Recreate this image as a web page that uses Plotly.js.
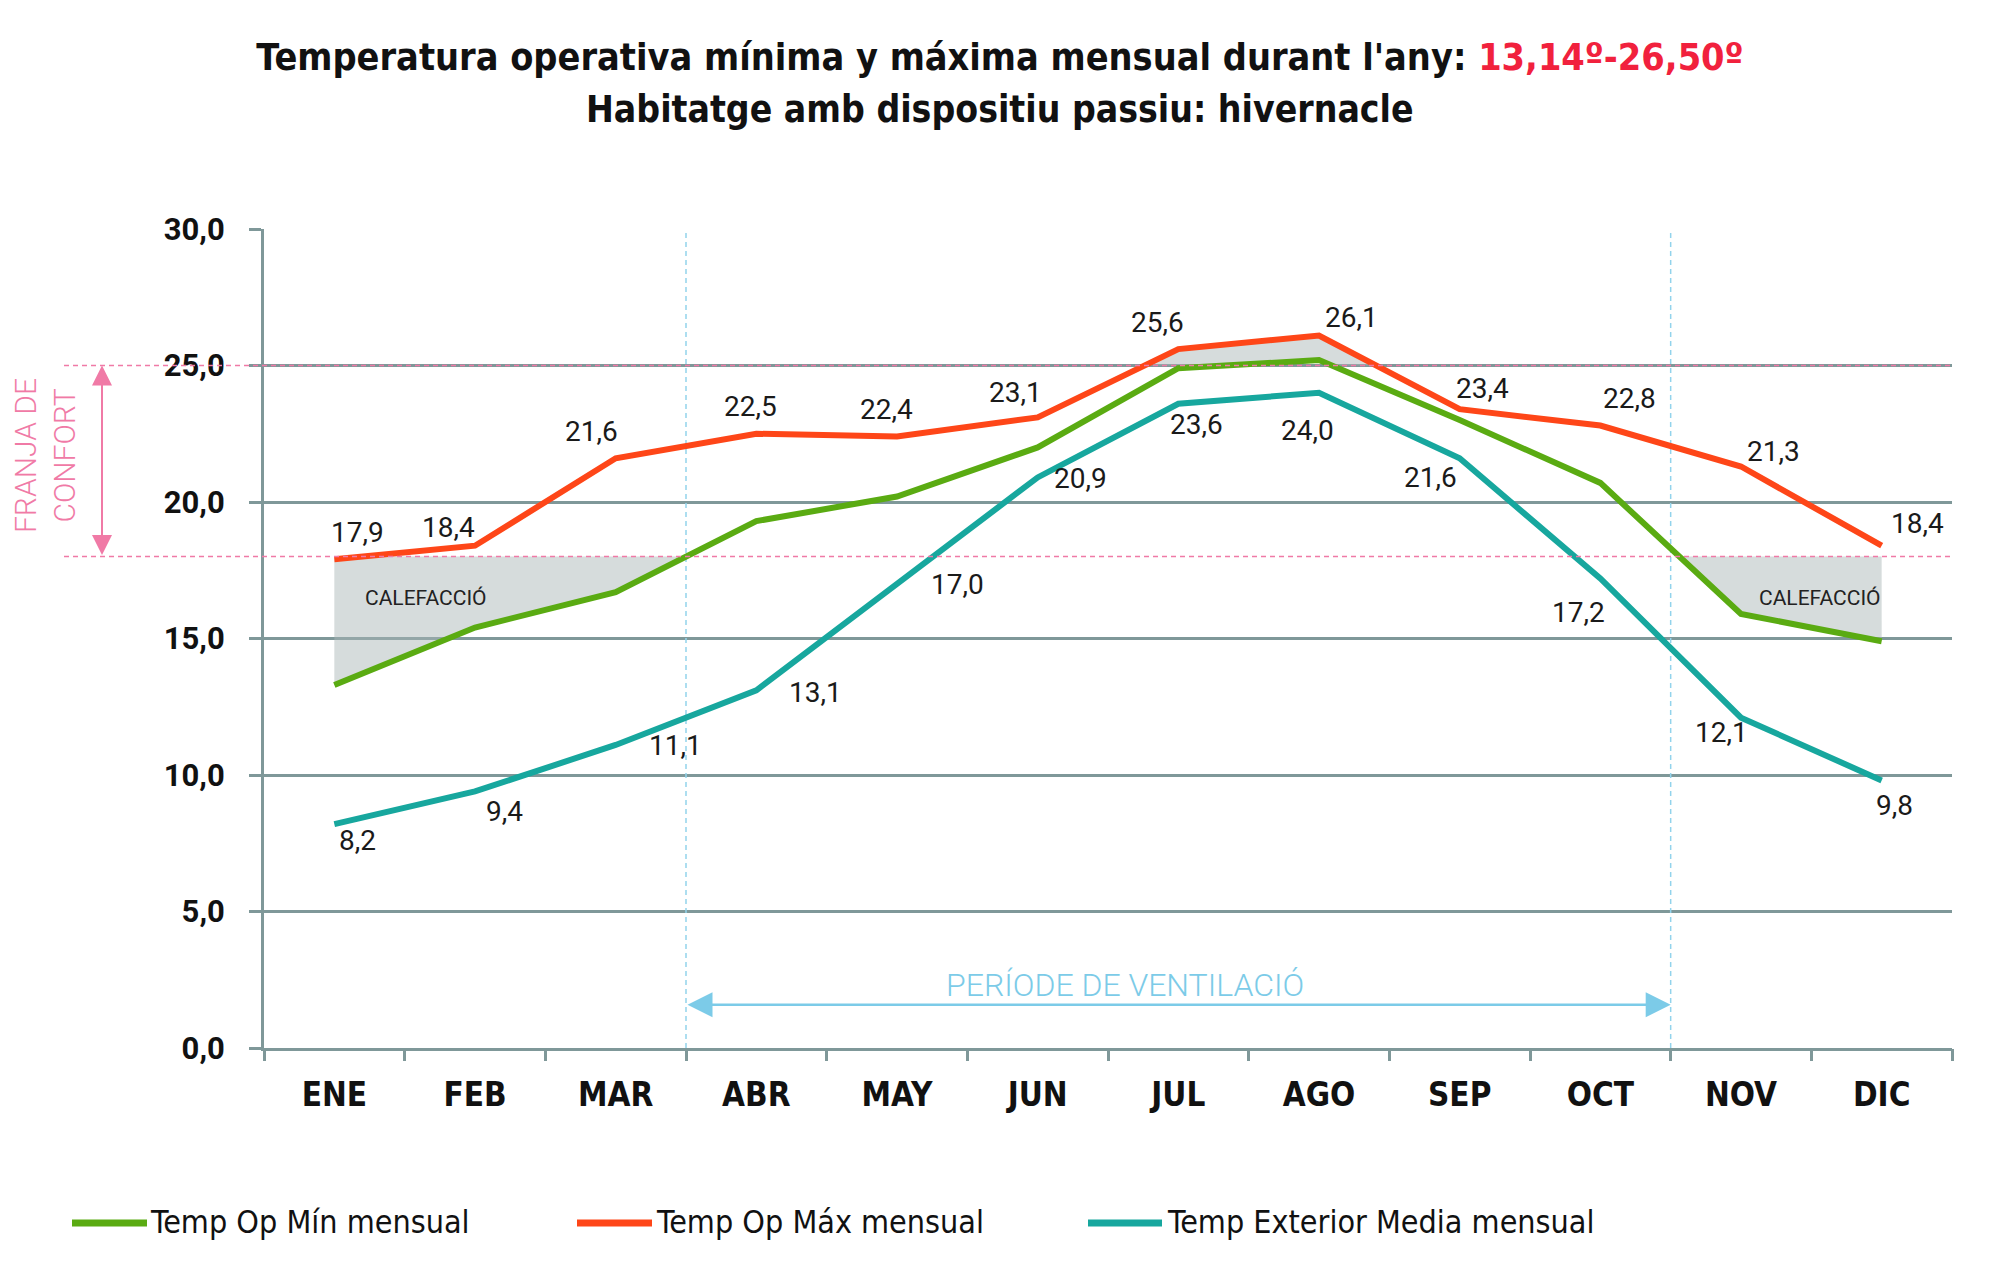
<!DOCTYPE html>
<html>
<head>
<meta charset="utf-8">
<script src="https://cdn.plot.ly/plotly-3.0.1.min.js"></script>
<style>html,body{margin:0;padding:0;background:#fff}#chart{width:2000px;height:1273px}</style>
</head>
<body>
<div id="chart"></div>
<script>
// ---------- data ----------
const months = ['ENE','FEB','MAR','ABR','MAY','JUN','JUL','AGO','SEP','OCT','NOV','DIC'];
const tempMin = [13.3, 15.4, 16.7, 19.3, 20.2, 22.0, 24.9, 25.2, 23.0, 20.7, 15.9, 14.9];
const tempMax = [17.9, 18.4, 21.6, 22.5, 22.4, 23.1, 25.6, 26.1, 23.4, 22.8, 21.3, 18.4];
const tempExt = [8.2, 9.4, 11.1, 13.1, 17.0, 20.9, 23.6, 24.0, 21.6, 17.2, 12.1, 9.8];
const seriesNames = ['Temp Op Mín mensual', 'Temp Op Máx mensual', 'Temp Exterior Media mensual'];
const yTicks = [0, 5, 10, 15, 20, 25, 30];
const confortMin = 18, confortMax = 25;
const ventFirst = 'ABR', ventLast = 'OCT';
const titleMain = "Temperatura operativa mínima y máxima mensual durant l'any: ";
const titleRange = '13,14º-26,50º';
const subtitle = 'Habitatge amb dispositiu passiu: hivernacle';

// ---------- styles ----------
const COLORS = ['#5aab12', '#fe4618', '#17a79e'];
const GRID = '#7f9899';
const PINK = '#f07aa6';
const LBLUE = '#7ccbe8';
const SHADE = 'rgba(170,182,182,0.48)';
const COND = 'DejaVu Sans Condensed, DejaVu Sans, sans-serif';
const Y_RANGE = [0, 30];
const X_RANGE = [-0.5, months.length - 0.5];

const idx = months.map((_, i) => i);
const boundaries = [...idx.map(i => i - 0.5), months.length - 0.5];
const ventStart = months.indexOf(ventFirst) - 0.5;
const ventEnd = months.indexOf(ventLast) + 0.5;
const fmt = v => v.toFixed(1).replace('.', ',');

// pixel -> paper helpers (plot area 264..1952 x, 229..1048 y)
const PL = 264, PW = 1688, PB = 1048, PH = 819;
const px = x => (x - PL) / PW;
const py = y => (PB - y) / PH;

// piecewise linear helpers for the shaded bands
const lin = arr => x => { const i = Math.max(0, Math.min(Math.floor(x), arr.length - 2)); const t = x - i; return arr[i] + (arr[i + 1] - arr[i]) * t; };
const cst = v => () => v;
function bands(top, bot, fns) {
  const n = months.length; const xs = [];
  for (let i = 0; i < n - 1; i++) {
    xs.push(i);
    for (let a = 0; a < fns.length; a++) for (let b = a + 1; b < fns.length; b++) {
      const d0 = fns[a](i) - fns[b](i), d1 = fns[a](i + 1) - fns[b](i + 1);
      if (d0 * d1 < 0) xs.push(i + d0 / (d0 - d1));
    }
  }
  xs.push(n - 1); xs.sort((p, q) => p - q);
  const polys = []; let cur = [];
  for (const x of xs) {
    if (top(x) - bot(x) >= -1e-9) cur.push(x);
    else { if (cur.length > 1) polys.push(cur); cur = []; }
  }
  if (cur.length > 1) polys.push(cur);
  return polys.map(s => { const r = s.slice().reverse(); return { x: s.concat(r), y: s.map(top).concat(r.map(bot)) }; });
}
const fMin = lin(tempMin), fMax = lin(tempMax);
const heatBands = bands(cst(confortMin), fMin, [cst(confortMin), fMin]);
const hotBands = bands(fMax, x => Math.max(fMin(x), confortMax), [fMax, fMin, cst(confortMax)]);

const traces = [];
[...heatBands, ...hotBands].forEach(p => traces.push({
  type: 'scatter', x: p.x, y: p.y, mode: 'lines', line: { width: 0 },
  fill: 'toself', fillcolor: SHADE, hoverinfo: 'skip', showlegend: false
}));
[tempMin, tempMax, tempExt].forEach((arr, k) => traces.push({
  type: 'scatter', x: idx, y: arr, mode: 'lines', name: seriesNames[k],
  line: { color: COLORS[k], width: 6 }, showlegend: false
}));
// dummy trace so the boundary-tick axis is drawn
traces.push({ type: 'scatter', x: [null], y: [null], xaxis: 'x2', yaxis: 'y', showlegend: false, hoverinfo: 'skip' });

// ---------- annotations ----------
const annotations = [];
const labelFont = { family: 'Roboto', size: 28, color: '#1a1a1a' };
const maxOff = [[23,-27],[-27,-18],[-24,-27],[-6,-27],[-11,-27],[-22,-25],[-21,-27],[32,-18],[23,-21],[29,-27],[32,-15],[36,-22]];
const extOff = [[23,16],[29,20],[60,1],[59,2],[60,1],[43,1],[18,21],[-12,38],[-29,19],[-22,34],[-20,15],[13,25]];
tempMax.forEach((v, i) => annotations.push({ x: i, y: v, xref: 'x', yref: 'y', text: fmt(v), showarrow: false,
  xshift: maxOff[i][0], yshift: -maxOff[i][1], font: labelFont }));
tempExt.forEach((v, i) => annotations.push({ x: i, y: v, xref: 'x', yref: 'y', text: fmt(v), showarrow: false,
  xshift: extOff[i][0], yshift: -extOff[i][1], font: labelFont }));

// subtitle (second title line)
annotations.push({ xref: 'paper', yref: 'paper', x: px(1000), y: py(109), xanchor: 'center', yanchor: 'middle',
  text: subtitle, showarrow: false, font: { family: COND, size: 37, weight: 'bold', color: '#111' } });

// CALEFACCIÓ labels
annotations.push({ xref: 'paper', yref: 'paper', x: px(426), y: py(598), text: 'CALEFACCIÓ', showarrow: false,
  xanchor: 'center', yanchor: 'middle', font: { family: 'Roboto', size: 21, color: '#222' } });
annotations.push({ xref: 'paper', yref: 'paper', x: px(1820), y: py(598), text: 'CALEFACCIÓ', showarrow: false,
  xanchor: 'center', yanchor: 'middle', font: { family: 'Roboto', size: 21, color: '#222' } });

// Franja de confort
annotations.push({ xref: 'paper', yref: 'paper', x: px(45), y: py(456), text: 'FRANJA DE<br>CONFORT', showarrow: false,
  textangle: -90, xanchor: 'center', yanchor: 'middle', align: 'center',
  font: { family: 'Roboto', size: 30, weight: 300, color: PINK } });
annotations.push({ xref: 'paper', yref: 'y', x: px(102), y: confortMax, axref: 'pixel', ax: 0, ayref: 'y', ay: confortMin,
  text: '', showarrow: true, arrowside: 'end+start', arrowhead: 2, startarrowhead: 2, arrowsize: 2, startarrowsize: 2,
  arrowwidth: 2, arrowcolor: PINK, standoff: 0, startstandoff: 0 });

// Període de ventilació
annotations.push({ xref: 'x', yref: 'y', x: ventEnd, y: 1.58, axref: 'x', ax: ventStart, ayref: 'y', ay: 1.58,
  text: '', showarrow: true, arrowside: 'end+start', arrowhead: 2, startarrowhead: 2, arrowsize: 2, startarrowsize: 2,
  arrowwidth: 2.5, arrowcolor: LBLUE, standoff: 0, startstandoff: 0 });
annotations.push({ xref: 'paper', yref: 'y', x: px(1125), y: 2.31, text: 'PERÍODE DE VENTILACIÓ', showarrow: false,
  xanchor: 'center', yanchor: 'middle', font: { family: 'Roboto', size: 32, weight: 300, color: LBLUE } });

// ---------- custom legend ----------
const legendX = [[72, 147, 148], [577, 652, 654], [1088, 1162, 1165]];
const shapes = [];
seriesNames.forEach((name, k) => {
  shapes.push({ type: 'line', xref: 'paper', yref: 'paper', x0: px(legendX[k][0]), x1: px(legendX[k][1]),
    y0: py(1223), y1: py(1223), line: { color: COLORS[k], width: 7 }, layer: 'above' });
  annotations.push({ xref: 'paper', yref: 'paper', x: px(legendX[k][2]), y: py(1222), xanchor: 'left', yanchor: 'middle',
    text: name, showarrow: false, font: { family: COND, size: 32, color: '#111' } });
});

// comfort band lines and ventilation boundaries
[confortMax, confortMin].forEach(v => shapes.push({ type: 'line', xref: 'paper', yref: 'y domain',
  x0: px(64), x1: 1, y0: (v - Y_RANGE[0]) / (Y_RANGE[1] - Y_RANGE[0]), y1: (v - Y_RANGE[0]) / (Y_RANGE[1] - Y_RANGE[0]),
  line: { color: PINK, width: 1.5, dash: '5px,4px' }, layer: 'above' }));
[ventStart, ventEnd].forEach(v => shapes.push({ type: 'line', xref: 'x', yref: 'y', x0: v, x1: v,
  y0: Y_RANGE[0], y1: Y_RANGE[1], line: { color: '#92d3ec', width: 1.5, dash: '5px,4px' }, layer: 'between' }));

const layout = {
  width: 2000, height: 1273,
  margin: { l: 264, r: 48, t: 229, b: 225 },
  paper_bgcolor: '#ffffff', plot_bgcolor: '#ffffff',
  separators: ',.',
  showlegend: false,
  font: { family: 'Roboto', color: '#111' },
  title: {
    text: titleMain + '<span style="color:#f1213d">' + titleRange + '</span>',
    x: 0.5, xref: 'container', xanchor: 'center', y: 1 - 57 / 1273, yref: 'container', yanchor: 'middle',
    font: { family: COND, size: 37.5, weight: 'bold', color: '#111' }
  },
  xaxis: {
    range: X_RANGE, tickmode: 'array', tickvals: idx, ticktext: months, ticks: '',
    showgrid: false, zeroline: false, showline: true, linecolor: GRID, linewidth: 3,
    tickfont: { family: COND, size: 33, weight: 'bold', color: '#111' }, ticklabelstandoff: 15
  },
  xaxis2: {
    overlaying: 'x', anchor: 'y', side: 'bottom', range: X_RANGE, tickmode: 'array', tickvals: boundaries,
    ticks: 'outside', ticklen: 12, tickwidth: 3, tickcolor: GRID, showticklabels: false,
    showgrid: false, zeroline: false, showline: false
  },
  yaxis: {
    range: Y_RANGE, tickmode: 'array', tickvals: yTicks, tickformat: '.1f',
    ticks: 'outside', ticklen: 12, tickwidth: 3, tickcolor: GRID,
    showgrid: true, gridcolor: GRID, gridwidth: 3, zeroline: false,
    showline: true, linecolor: GRID, linewidth: 3,
    tickfont: { family: 'Roboto', size: 31, weight: 'bold', color: '#111' }, ticklabelstandoff: 18
  },
  shapes: shapes,
  annotations: annotations
};

Plotly.newPlot('chart', traces, layout, { staticPlot: true, displayModeBar: false });
</script>
</body>
</html>
